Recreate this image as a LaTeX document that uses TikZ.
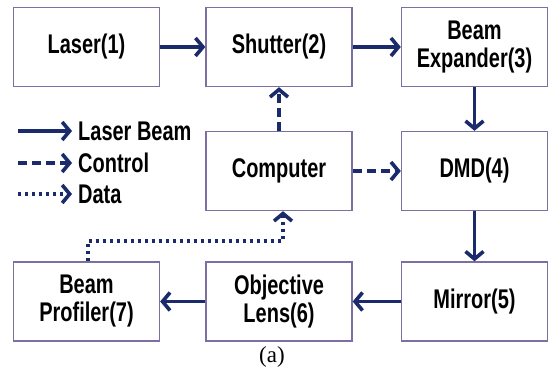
\documentclass[tikz,border=0pt]{standalone}
\usepackage{fontspec}
\setmainfont{Liberation Sans}
\newfontfamily\boxfont{Liberation Sans}[FakeStretch=0.74]
\newfontfamily\capfont{Liberation Serif}
\usetikzlibrary{arrows.meta}
\definecolor{navy}{HTML}{1B2A6B}
\definecolor{boxline}{HTML}{7E6FA3}
\tikzset{
  blk/.style={draw=boxline, line width=1.4pt, minimum width=146pt, minimum height=79pt,
    inner sep=0pt, align=center, font=\boxfont\bfseries\fontsize{27}{28}\selectfont, text=black},
  beam/.style={draw=navy, line width=3.6pt, -{Straight Barb[length=7.5pt,width=18pt]}},
  ctrl/.style={beam, dash pattern=on 9pt off 5pt},
  dat/.style={beam, dash pattern=on 3pt off 4pt},
  leg/.style={anchor=west, inner sep=0pt, font=\boxfont\bfseries\fontsize{27}{28}\selectfont, text=black}
}
\begin{document}
\begin{tikzpicture}[x=1pt,y=-1pt]
\useasboundingbox (0,0) rectangle (549,369);
\node[blk] (laser) at (86.5,47) {Laser(1)};
\node[blk] (shutter) at (279,47) {Shutter(2)};
\node[blk] (expander) at (474.5,47) {Beam\\Expander(3)};
\node[blk] (computer) at (279,171) {Computer};
\node[blk] (dmd) at (474.5,171) {DMD(4)};
\node[blk] (profiler) at (86.5,301.5) {Beam\\Profiler(7)};
\node[blk] (objective) at (279,301.5) {Objective\\Lens(6)};
\node[blk] (mirror) at (474.5,301.5) {Mirror(5)};
\node[font=\capfont\fontsize{23}{24}\selectfont, inner sep=0pt] (cap) at (272,357) {(a)};

\draw[beam] (laser) -- (shutter);
\draw[beam] (shutter) -- (expander);
\draw[beam] (expander) -- (dmd);
\draw[beam] (dmd) -- (mirror);
\draw[beam] (mirror) -- (objective);
\draw[beam] (objective) -- (profiler);
\draw[ctrl] (computer) -- (shutter);
\draw[ctrl] (computer) -- (dmd);
\coordinate (d1) at (88,241);
\coordinate (d2) at (283,241);
\draw[dat] (profiler.north -| d1) -- (d1) -- (d2) -- (computer.south -| d2);

\coordinate (l1a) at (18,131); \coordinate (l1b) at (72,131);
\coordinate (l2a) at (18,163); \coordinate (l2b) at (72,163);
\coordinate (l3a) at (18,194); \coordinate (l3b) at (72,194);
\draw[beam] (l1a) -- (l1b);
\draw[ctrl] (l2a) -- (l2b);
\draw[dat] (l3a) -- (l3b);
\node[leg] (t1) at (78,131) {Laser Beam};
\node[leg] (t2) at (78,163) {Control};
\node[leg] (t3) at (78,194) {Data};
\end{tikzpicture}
\end{document}
